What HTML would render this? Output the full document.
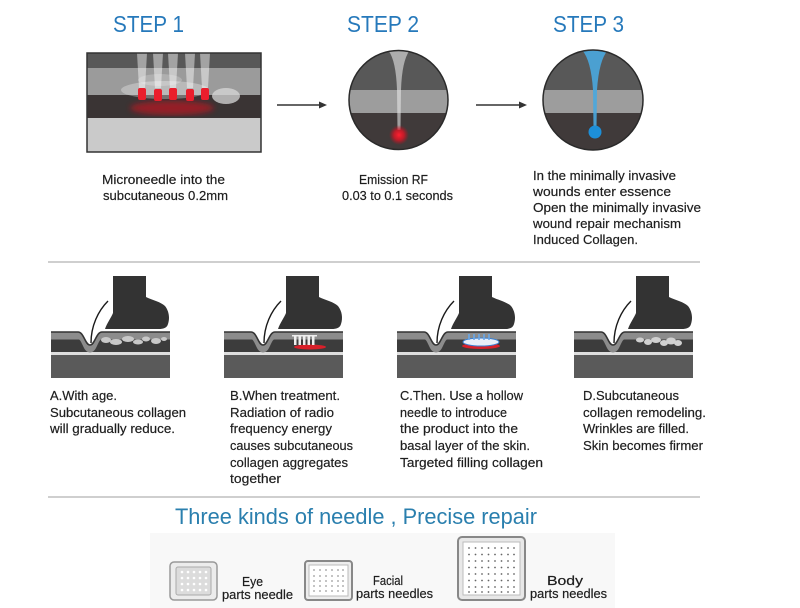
<!DOCTYPE html>
<html><head><meta charset="utf-8"><style>
html,body{margin:0;padding:0;background:#fff;}
svg{display:block;}
text{font-family:"Liberation Sans",sans-serif;}
</style></head><body>
<svg width="800" height="608" viewBox="0 0 800 608" xmlns="http://www.w3.org/2000/svg">
<defs>
  <filter id="blur3"><feGaussianBlur stdDeviation="3"/></filter>
  <filter id="blur1"><feGaussianBlur stdDeviation="1"/></filter>
  <radialGradient id="redglow"><stop offset="0" stop-color="#ff2030"/><stop offset="0.5" stop-color="#e01525" stop-opacity="0.8"/><stop offset="1" stop-color="#c01020" stop-opacity="0"/></radialGradient>
  <clipPath id="c2"><circle cx="398.5" cy="100" r="49.5"/></clipPath>
  <clipPath id="c3"><circle cx="593" cy="100" r="50"/></clipPath>
  <clipPath id="r1"><rect x="87" y="53" width="174" height="99"/></clipPath>
  <g id="skin">
    <rect x="0" y="332" width="119" height="46" fill="#5a5a5a"/>
    <rect x="0" y="332" width="119" height="20" fill="#3c3c3c"/>
    <rect x="0" y="352" width="119" height="3" fill="#dedede"/>
    <path d="M0,336 L28,336 C34,336 35,349 39,349 C43,349 44,336 50,336 L119,336" fill="none" stroke="#8c8c8c" stroke-width="7"/>
    <path d="M26,331.5 C33,332 34,345 39,345 C44,345 45,332 52,331.5 Z" fill="#fff"/>
    <path d="M0,332 L27,332 C33,332 34,345 39,345 C44,345 45,332 51,332 L119,332" fill="none" stroke="#333" stroke-width="1.6"/>
    <path d="M62,276 L95,276 L95,297 C101,300 110,302 114,306 C118,311 119,318 117,324 C116,328 112,329 108,329 L54,329 C56,323 60,318 62,313 Z" fill="#333"/>
    <path d="M40,343 C40,326 47,311 57,301" fill="none" stroke="#1a1a1a" stroke-width="1.4"/>
  </g>
</defs>

<!-- STEP titles -->
<text x="113" y="32" font-size="23" fill="#2679bb" textLength="71" lengthAdjust="spacingAndGlyphs">STEP 1</text>
<text x="347" y="32" font-size="23" fill="#2679bb" textLength="72" lengthAdjust="spacingAndGlyphs">STEP 2</text>
<text x="553" y="32" font-size="23" fill="#2679bb" textLength="71" lengthAdjust="spacingAndGlyphs">STEP 3</text>

<!-- Step 1 image -->
<g clip-path="url(#r1)">
  <rect x="87" y="53" width="174" height="15" fill="#585858"/>
  <rect x="87" y="68" width="174" height="27" fill="#9b9b9b"/>
  <rect x="87" y="95" width="174" height="23" fill="#3a3434"/>
  <rect x="87" y="118" width="174" height="34" fill="#cacaca"/>
  <ellipse cx="172" cy="108" rx="42" ry="7" fill="#e0101f" opacity="0.55" filter="url(#blur3)"/>
  <ellipse cx="165" cy="90" rx="44" ry="9" fill="#fff" opacity="0.3"/>
  <ellipse cx="160" cy="80" rx="22" ry="6" fill="#fff" opacity="0.2"/>
  <ellipse cx="226" cy="96" rx="14" ry="8" fill="#d8d8d8" opacity="0.75"/>
  <path d="M137,53 L147,53 L145,88 L139,88 Z" fill="#fff" opacity="0.45"/>
  <path d="M153,53 L163,53 L161,88 L155,88 Z" fill="#fff" opacity="0.45"/>
  <path d="M168,53 L178,53 L176,88 L170,88 Z" fill="#fff" opacity="0.45"/>
  <path d="M185,53 L195,53 L193,88 L187,88 Z" fill="#fff" opacity="0.45"/>
  <path d="M200,53 L210,53 L208,88 L202,88 Z" fill="#fff" opacity="0.45"/>
  <rect x="138" y="88" width="8" height="12" rx="2" fill="#ea1e2c"/>
  <rect x="154" y="89" width="8" height="12" rx="2" fill="#ea1e2c"/>
  <rect x="169" y="88" width="8" height="12" rx="2" fill="#ea1e2c"/>
  <rect x="186" y="89" width="8" height="12" rx="2" fill="#ea1e2c"/>
  <rect x="201" y="88" width="8" height="12" rx="2" fill="#ea1e2c"/>
</g>
<rect x="87" y="53" width="174" height="99" fill="none" stroke="#333" stroke-width="1.5"/>

<!-- arrow 1 -->
<line x1="277" y1="105" x2="321" y2="105" stroke="#333" stroke-width="1.5"/>
<path d="M319,101.5 L327,105 L319,108.5 Z" fill="#333"/>

<!-- Step 2 circle -->
<g clip-path="url(#c2)">
  <rect x="340" y="40" width="120" height="50" fill="#585858"/>
  <rect x="340" y="90" width="120" height="23" fill="#9d9d9d"/>
  <rect x="340" y="113" width="120" height="40" fill="#403a3a"/>
  <path d="M388,50 Q396,60 397,90 L397.5,130 L400.5,130 L401,90 Q402,60 410,50 Z" fill="#e6e6e6" opacity="0.6"/>
  <circle cx="399" cy="135" r="10" fill="url(#redglow)"/>
</g>
<circle cx="398.5" cy="100" r="49.5" fill="none" stroke="#2a2a2a" stroke-width="1.5"/>

<!-- arrow 2 -->
<line x1="476" y1="105" x2="521" y2="105" stroke="#333" stroke-width="1.5"/>
<path d="M519,101.5 L527,105 L519,108.5 Z" fill="#333"/>

<!-- Step 3 circle -->
<g clip-path="url(#c3)">
  <rect x="540" y="40" width="110" height="50" fill="#585858"/>
  <rect x="540" y="90" width="110" height="23" fill="#9d9d9d"/>
  <rect x="540" y="113" width="110" height="40" fill="#403a3a"/>
  <path d="M582,50 Q591,60 593,90 L593.5,128 L596.5,128 L597,90 Q599,60 608,50 Z" fill="#4aa8df" opacity="0.9"/>
  <circle cx="595" cy="132" r="6.5" fill="#1d8fd8"/>
</g>
<circle cx="593" cy="100" r="50" fill="none" stroke="#2a2a2a" stroke-width="1.5"/>

<!-- Step texts -->
<g font-size="13" fill="#1e1e1e" stroke="#1e1e1e" stroke-width="0.2">
  <text x="102" y="184" textLength="123" lengthAdjust="spacingAndGlyphs">Microneedle into the</text>
  <text x="103" y="200" textLength="125" lengthAdjust="spacingAndGlyphs">subcutaneous 0.2mm</text>
  <text x="359" y="184" textLength="69" lengthAdjust="spacingAndGlyphs">Emission RF</text>
  <text x="342" y="200" textLength="111" lengthAdjust="spacingAndGlyphs">0.03 to 0.1 seconds</text>
  <text x="533" y="180" textLength="143" lengthAdjust="spacingAndGlyphs">In the minimally invasive</text>
  <text x="533" y="196" textLength="138" lengthAdjust="spacingAndGlyphs">wounds enter essence</text>
  <text x="533" y="212" textLength="168" lengthAdjust="spacingAndGlyphs">Open  the minimally invasive</text>
  <text x="533" y="228" textLength="148" lengthAdjust="spacingAndGlyphs">wound repair mechanism</text>
  <text x="533" y="244" textLength="105" lengthAdjust="spacingAndGlyphs">Induced Collagen.</text>
</g>

<!-- divider 1 -->
<line x1="48" y1="262" x2="700" y2="262" stroke="#cfcfcf" stroke-width="2"/>

<!-- Panels -->
<use href="#skin" x="51" y="0"/>
<use href="#skin" x="224" y="0"/>
<use href="#skin" x="397" y="0"/>
<use href="#skin" x="574" y="0"/>

<!-- A collagen -->
<g fill="#c8c8c8">
  <ellipse cx="106" cy="340" rx="5" ry="3"/>
  <ellipse cx="116" cy="342" rx="6" ry="3"/>
  <ellipse cx="128" cy="339" rx="6" ry="3"/>
  <ellipse cx="138" cy="342" rx="5" ry="2.5"/>
  <ellipse cx="146" cy="339" rx="4" ry="2.5"/>
  <ellipse cx="156" cy="341" rx="5" ry="3"/>
  <ellipse cx="164" cy="339" rx="3" ry="2"/>
</g>
<!-- B -->
<ellipse cx="310" cy="347" rx="16" ry="2.5" fill="#d8202a"/>
<g fill="#eee">
  <rect x="294" y="336" width="2.5" height="9"/>
  <rect x="298.5" y="336" width="2.5" height="9"/>
  <rect x="303" y="336" width="2.5" height="9"/>
  <rect x="307.5" y="336" width="2.5" height="9"/>
  <rect x="312" y="336" width="2.5" height="9"/>
  <rect x="292" y="335" width="25" height="1.5"/>
</g>
<!-- C -->
<ellipse cx="481" cy="346" rx="19" ry="3" fill="#d8202a"/>
<ellipse cx="481" cy="342" rx="18" ry="4" fill="#e8eef8" stroke="#3a7fd0" stroke-width="1"/>
<g fill="#6aa8e8" opacity="0.8">
  <rect x="468" y="334" width="2" height="6"/><rect x="473" y="334" width="2" height="6"/>
  <rect x="478" y="334" width="2" height="6"/><rect x="483" y="334" width="2" height="6"/>
  <rect x="488" y="334" width="2" height="6"/>
</g>
<!-- D -->
<g fill="#d0d0d0">
  <ellipse cx="640" cy="340" rx="4" ry="2.5"/>
  <ellipse cx="648" cy="342" rx="4" ry="3"/>
  <ellipse cx="656" cy="340" rx="5" ry="3"/>
  <ellipse cx="664" cy="343" rx="4" ry="3"/>
  <ellipse cx="671" cy="341" rx="5" ry="3.5"/>
  <ellipse cx="678" cy="343" rx="4" ry="3"/>
</g>

<!-- Panel texts -->
<g font-size="13" fill="#1e1e1e" stroke="#1e1e1e" stroke-width="0.2">
  <text x="50" y="400" textLength="67" lengthAdjust="spacingAndGlyphs">A.With age.</text>
  <text x="50" y="417" textLength="136" lengthAdjust="spacingAndGlyphs">Subcutaneous collagen</text>
  <text x="50" y="433" textLength="125" lengthAdjust="spacingAndGlyphs">will gradually reduce.</text>

  <text x="230" y="400" textLength="110" lengthAdjust="spacingAndGlyphs">B.When treatment.</text>
  <text x="230" y="417" textLength="104" lengthAdjust="spacingAndGlyphs">Radiation of radio</text>
  <text x="230" y="433" textLength="102" lengthAdjust="spacingAndGlyphs">frequency energy</text>
  <text x="230" y="450" textLength="123" lengthAdjust="spacingAndGlyphs">causes subcutaneous</text>
  <text x="230" y="467" textLength="118" lengthAdjust="spacingAndGlyphs">collagen aggregates</text>
  <text x="230" y="483" textLength="51" lengthAdjust="spacingAndGlyphs">together</text>

  <text x="400" y="400" textLength="123" lengthAdjust="spacingAndGlyphs">C.Then. Use a hollow</text>
  <text x="400" y="417" textLength="107" lengthAdjust="spacingAndGlyphs">needle to introduce</text>
  <text x="400" y="433" textLength="118" lengthAdjust="spacingAndGlyphs">the product into the</text>
  <text x="400" y="450" textLength="130" lengthAdjust="spacingAndGlyphs">basal layer of the skin.</text>
  <text x="400" y="467" textLength="143" lengthAdjust="spacingAndGlyphs">Targeted filling collagen</text>

  <text x="583" y="400" textLength="96" lengthAdjust="spacingAndGlyphs">D.Subcutaneous</text>
  <text x="583" y="417" textLength="123" lengthAdjust="spacingAndGlyphs">collagen remodeling.</text>
  <text x="583" y="433" textLength="106" lengthAdjust="spacingAndGlyphs">Wrinkles are filled.</text>
  <text x="583" y="450" textLength="120" lengthAdjust="spacingAndGlyphs">Skin becomes firmer</text>
</g>

<!-- divider 2 -->
<line x1="48" y1="497" x2="700" y2="497" stroke="#cfcfcf" stroke-width="2"/>

<text x="175" y="524" font-size="22" fill="#2a7fae" textLength="362" lengthAdjust="spacingAndGlyphs">Three kinds of needle , Precise repair</text>

<!-- pad background -->
<rect x="150" y="533" width="465" height="75" fill="#f8f8f8"/>

<!-- Eye pad -->
<rect x="170" y="562" width="47" height="38" rx="4" fill="#ececec" stroke="#999" stroke-width="1.5"/>
<rect x="176" y="567" width="35" height="28" rx="2" fill="#dcdcdc" stroke="#aaa" stroke-width="1"/>
<g fill="#fff">
  <circle cx="182" cy="572" r="1.3"/><circle cx="188" cy="572" r="1.3"/><circle cx="194" cy="572" r="1.3"/><circle cx="200" cy="572" r="1.3"/><circle cx="206" cy="572" r="1.3"/>
  <circle cx="182" cy="578" r="1.3"/><circle cx="188" cy="578" r="1.3"/><circle cx="194" cy="578" r="1.3"/><circle cx="200" cy="578" r="1.3"/><circle cx="206" cy="578" r="1.3"/>
  <circle cx="182" cy="584" r="1.3"/><circle cx="188" cy="584" r="1.3"/><circle cx="194" cy="584" r="1.3"/><circle cx="200" cy="584" r="1.3"/><circle cx="206" cy="584" r="1.3"/>
  <circle cx="182" cy="590" r="1.3"/><circle cx="188" cy="590" r="1.3"/><circle cx="194" cy="590" r="1.3"/><circle cx="200" cy="590" r="1.3"/><circle cx="206" cy="590" r="1.3"/>
</g>
<!-- Facial pad -->
<rect x="305" y="561" width="47" height="39" rx="3" fill="#ededed" stroke="#888" stroke-width="2"/>
<rect x="309" y="565" width="39" height="31" fill="#fff" stroke="#bbb" stroke-width="1"/>
<g fill="#999">
  <circle cx="314" cy="570" r="0.9"/><circle cx="320" cy="570" r="0.9"/><circle cx="326" cy="570" r="0.9"/><circle cx="332" cy="570" r="0.9"/><circle cx="338" cy="570" r="0.9"/><circle cx="343" cy="570" r="0.9"/>
  <circle cx="314" cy="576" r="0.9"/><circle cx="320" cy="576" r="0.9"/><circle cx="326" cy="576" r="0.9"/><circle cx="332" cy="576" r="0.9"/><circle cx="338" cy="576" r="0.9"/><circle cx="343" cy="576" r="0.9"/>
  <circle cx="314" cy="581" r="0.9"/><circle cx="320" cy="581" r="0.9"/><circle cx="326" cy="581" r="0.9"/><circle cx="332" cy="581" r="0.9"/><circle cx="338" cy="581" r="0.9"/><circle cx="343" cy="581" r="0.9"/>
  <circle cx="314" cy="586" r="0.9"/><circle cx="320" cy="586" r="0.9"/><circle cx="326" cy="586" r="0.9"/><circle cx="332" cy="586" r="0.9"/><circle cx="338" cy="586" r="0.9"/><circle cx="343" cy="586" r="0.9"/>
  <circle cx="314" cy="591" r="0.9"/><circle cx="320" cy="591" r="0.9"/><circle cx="326" cy="591" r="0.9"/><circle cx="332" cy="591" r="0.9"/><circle cx="338" cy="591" r="0.9"/><circle cx="343" cy="591" r="0.9"/>
</g>
<!-- Body pad -->
<rect x="458" y="537" width="67" height="63" rx="4" fill="#e8e8e8" stroke="#888" stroke-width="2"/>
<rect x="463" y="542" width="57" height="53" fill="#fff" stroke="#bbb" stroke-width="1"/>
<g fill="#666">
  <circle cx="469" cy="548" r="0.9"/><circle cx="475.5" cy="548" r="0.9"/><circle cx="482" cy="548" r="0.9"/><circle cx="488.5" cy="548" r="0.9"/><circle cx="495" cy="548" r="0.9"/><circle cx="501.5" cy="548" r="0.9"/><circle cx="508" cy="548" r="0.9"/><circle cx="514" cy="548" r="0.9"/>
  <circle cx="469" cy="554.5" r="0.9"/><circle cx="475.5" cy="554.5" r="0.9"/><circle cx="482" cy="554.5" r="0.9"/><circle cx="488.5" cy="554.5" r="0.9"/><circle cx="495" cy="554.5" r="0.9"/><circle cx="501.5" cy="554.5" r="0.9"/><circle cx="508" cy="554.5" r="0.9"/><circle cx="514" cy="554.5" r="0.9"/>
  <circle cx="469" cy="561" r="0.9"/><circle cx="475.5" cy="561" r="0.9"/><circle cx="482" cy="561" r="0.9"/><circle cx="488.5" cy="561" r="0.9"/><circle cx="495" cy="561" r="0.9"/><circle cx="501.5" cy="561" r="0.9"/><circle cx="508" cy="561" r="0.9"/><circle cx="514" cy="561" r="0.9"/>
  <circle cx="469" cy="567.5" r="0.9"/><circle cx="475.5" cy="567.5" r="0.9"/><circle cx="482" cy="567.5" r="0.9"/><circle cx="488.5" cy="567.5" r="0.9"/><circle cx="495" cy="567.5" r="0.9"/><circle cx="501.5" cy="567.5" r="0.9"/><circle cx="508" cy="567.5" r="0.9"/><circle cx="514" cy="567.5" r="0.9"/>
  <circle cx="469" cy="574" r="0.9"/><circle cx="475.5" cy="574" r="0.9"/><circle cx="482" cy="574" r="0.9"/><circle cx="488.5" cy="574" r="0.9"/><circle cx="495" cy="574" r="0.9"/><circle cx="501.5" cy="574" r="0.9"/><circle cx="508" cy="574" r="0.9"/><circle cx="514" cy="574" r="0.9"/>
  <circle cx="469" cy="580.5" r="0.9"/><circle cx="475.5" cy="580.5" r="0.9"/><circle cx="482" cy="580.5" r="0.9"/><circle cx="488.5" cy="580.5" r="0.9"/><circle cx="495" cy="580.5" r="0.9"/><circle cx="501.5" cy="580.5" r="0.9"/><circle cx="508" cy="580.5" r="0.9"/><circle cx="514" cy="580.5" r="0.9"/>
  <circle cx="469" cy="587" r="0.9"/><circle cx="475.5" cy="587" r="0.9"/><circle cx="482" cy="587" r="0.9"/><circle cx="488.5" cy="587" r="0.9"/><circle cx="495" cy="587" r="0.9"/><circle cx="501.5" cy="587" r="0.9"/><circle cx="508" cy="587" r="0.9"/><circle cx="514" cy="587" r="0.9"/>
  <circle cx="469" cy="592" r="0.9"/><circle cx="475.5" cy="592" r="0.9"/><circle cx="482" cy="592" r="0.9"/><circle cx="488.5" cy="592" r="0.9"/><circle cx="495" cy="592" r="0.9"/><circle cx="501.5" cy="592" r="0.9"/><circle cx="508" cy="592" r="0.9"/><circle cx="514" cy="592" r="0.9"/>
</g>

<!-- pad labels -->
<g font-size="13" fill="#1e1e1e" stroke="#1e1e1e" stroke-width="0.2">
  <text x="242" y="586" textLength="21" lengthAdjust="spacingAndGlyphs">Eye</text>
  <text x="222" y="599" textLength="71" lengthAdjust="spacingAndGlyphs">parts needle</text>
  <text x="373" y="585" textLength="30" lengthAdjust="spacingAndGlyphs">Facial</text>
  <text x="356" y="598" textLength="77" lengthAdjust="spacingAndGlyphs">parts needles</text>
  <text x="547" y="585" textLength="36" lengthAdjust="spacingAndGlyphs">Body</text>
  <text x="530" y="598" textLength="77" lengthAdjust="spacingAndGlyphs">parts needles</text>
</g>
</svg>
</body></html>
